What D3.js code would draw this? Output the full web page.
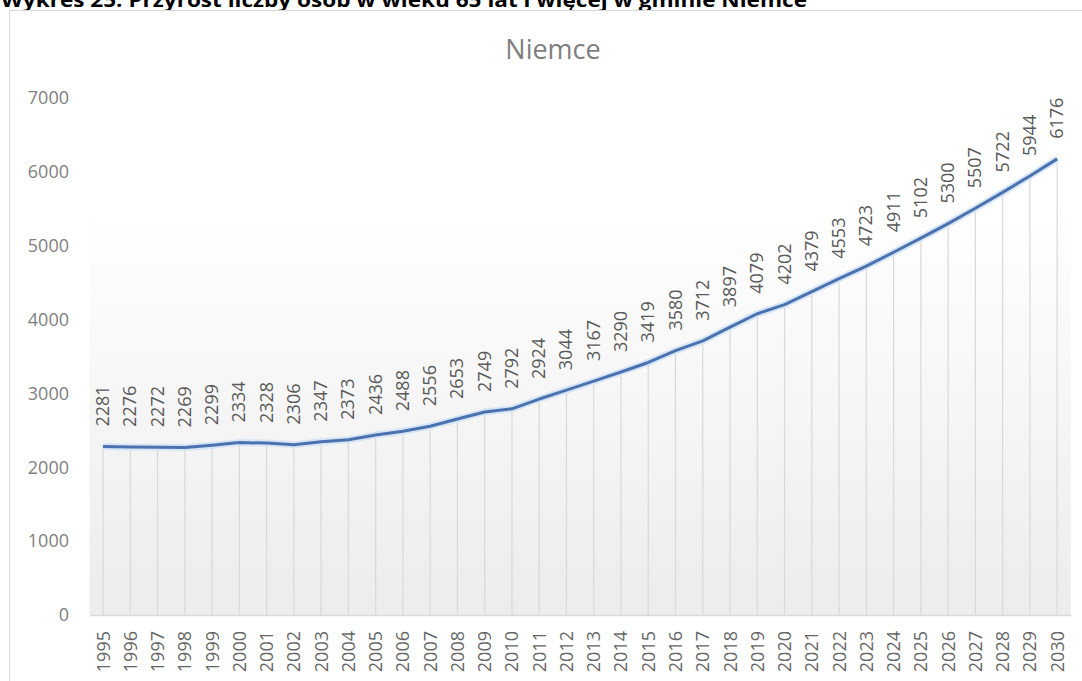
<!DOCTYPE html>
<html>
<head>
<meta charset="utf-8">
<script src="https://cdn.jsdelivr.net/npm/d3@7"></script>
<style>
  html, body { margin: 0; padding: 0; background: #ffffff; }
  svg { display: block; }
</style>
</head>
<body>
<svg id="chart" width="1082" height="681"></svg>
<script>
const years = ["1995","1996","1997","1998","1999","2000","2001","2002","2003","2004","2005","2006",
  "2007","2008","2009","2010","2011","2012","2013","2014","2015","2016","2017","2018",
  "2019","2020","2021","2022","2023","2024","2025","2026","2027","2028","2029","2030"];
const values = [2281,2276,2272,2269,2299,2334,2328,2306,2347,2373,2436,2488,
  2556,2653,2749,2792,2924,3044,3167,3290,3419,3580,3712,3897,
  4079,4202,4379,4553,4723,4911,5102,5300,5507,5722,5944,6176];
const yTicks = [0,1000,2000,3000,4000,5000,6000,7000];
const caption = "Wykres 25. Przyrost liczby osób w wieku 65 lat i więcej w gminie Niemce";
const chartTitle = "Niemce";

const svg = d3.select("#chart");
const FONT = "'Open Sans', 'Noto Sans', sans-serif";

// caption (cut off at top, as in the reference)
svg.append("text")
  .attr("x", 1).attr("y", 7)
  .attr("font-family", FONT).attr("font-weight", "bold")
  .attr("font-size", 19).attr("fill", "#000")
  .attr("textLength", 806).attr("lengthAdjust", "spacingAndGlyphs")
  .text(caption);

// chart frame
svg.append("rect")
  .attr("x", 9.5).attr("y", 10.5).attr("width", 1100).attr("height", 700)
  .attr("fill", "#ffffff").attr("stroke", "#d9d9d9").attr("stroke-width", 1);

const x = d3.scalePoint().domain(years).range([89.4, 1070.8]).padding(0.5);
const y = d3.scaleLinear().domain([0, 7000]).range([615, 98]);

// plot area gradient
const defs = svg.append("defs");
const grad = defs.append("linearGradient").attr("id", "pa").attr("x1", 0).attr("y1", 0).attr("x2", 0).attr("y2", 1);
grad.append("stop").attr("offset", "0%").attr("stop-color", "#ffffff");
grad.append("stop").attr("offset", "22%").attr("stop-color", "#ffffff");
grad.append("stop").attr("offset", "100%").attr("stop-color", "#ececec");
svg.append("rect")
  .attr("x", 89.4).attr("y", y(7000) - 8)
  .attr("width", 1070.8 - 89.4).attr("height", y(0) - y(7000) + 8)
  .attr("fill", "url(#pa)");

// title
svg.append("text")
  .attr("x", 553).attr("y", 59)
  .attr("text-anchor", "middle")
  .attr("font-family", FONT).attr("font-size", 27).attr("fill", "#7f7f7f")
  .text(chartTitle);

// y axis labels
const yAxis = d3.axisLeft(y).tickValues(yTicks).tickSize(0).tickPadding(0).tickFormat(d3.format("d"));
const gy = svg.append("g").attr("transform", "translate(69,0)").call(yAxis);
gy.select(".domain").remove();
gy.selectAll("text")
  .attr("font-family", FONT).attr("font-size", 18).attr("fill", "#7f7f7f");

// drop lines
svg.append("g").selectAll("line").data(values).join("line")
  .attr("x1", (d, i) => x(years[i])).attr("x2", (d, i) => x(years[i]))
  .attr("y1", d => y(d)).attr("y2", y(0))
  .attr("stroke", "#d9d9d9").attr("stroke-width", 1.2);

// x axis
const xAxis = d3.axisBottom(x).tickSize(0).tickPadding(0);
const gx = svg.append("g").attr("transform", `translate(0,${y(0)})`).call(xAxis);
gx.select(".domain").attr("stroke", "#d9d9d9").attr("stroke-width", 1.5);
gx.selectAll("text")
  .attr("font-family", FONT).attr("font-size", 18).attr("fill", "#666666")
  .attr("text-anchor", "end")
  .attr("dy", null).attr("y", 0)
  .attr("transform", "translate(6,16) rotate(-90)");

// line
const lineGen = d3.line().x((d, i) => x(years[i])).y(d => y(d));
svg.append("path").datum(values).attr("d", lineGen)
  .attr("fill", "none").attr("stroke", "#d4e3f5").attr("stroke-width", 7)
  .attr("stroke-linejoin", "round").attr("opacity", 0.9);
svg.append("path").datum(values).attr("d", lineGen)
  .attr("fill", "none").attr("stroke", "#4a72b0").attr("stroke-width", 3)
  .attr("stroke-linejoin", "round");

// data labels
svg.append("g").selectAll("text").data(values).join("text")
  .attr("transform", (d, i) => `translate(${x(years[i]) + 6},${y(d) - 20}) rotate(-90)`)
  .attr("font-family", FONT).attr("font-size", 18).attr("fill", "#595959")
  .text(d => d);
</script>
</body>
</html>
